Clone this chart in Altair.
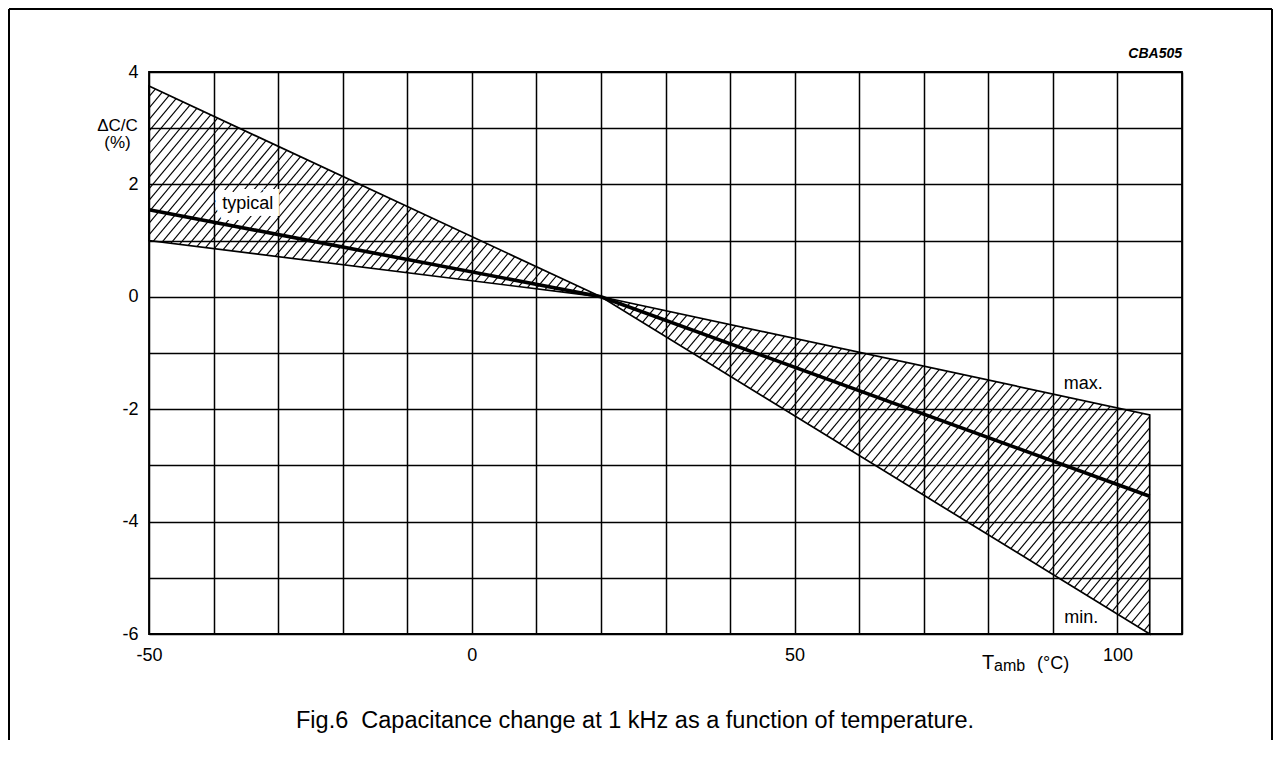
import altair as alt
import numpy as np
import pandas as pd

# ---- data ----
temps = [-50, 20, 105]          # T_amb (degC)
upper = [3.75, 0.0, -2.1]       # max. limit (%)
lower = [1.0, 0.0, -6.0]        # min. limit (%)
typical = [1.55, 0.0, -3.55]    # typical curve (%)

x_ticks = list(range(-50, 111, 10))
y_ticks = list(range(-6, 5, 1))

note_text = ["typical", "max.", "min."]
note_t = [-34.7, 94.7, 94.4]
note_v = [1.65, -1.56, -5.71]

# ---- layout / style constants ----
W, H = 1033, 562
XD, YD = (-50, 110), (-6, 4)
FONT = "Liberation Sans"
px_t = W / (XD[1] - XD[0])
px_v = H / (YD[1] - YD[0])
HATCH_SLOPE_PX = 1.2
HATCH_GAP_PX = 9.6

curves = pd.DataFrame({"T": temps, "upper": upper, "lower": lower, "typical": typical})

# ---- hatch segments clipped to the band between lower and upper ----
s = HATCH_SLOPE_PX * px_t / px_v
gap = HATCH_GAP_PX / px_t
segs = []
for i in range(len(temps) - 1):
    poly = [(temps[i], lower[i]), (temps[i], upper[i]),
            (temps[i + 1], upper[i + 1]), (temps[i + 1], lower[i + 1])]
    cs = [t - v / s for t, v in poly]
    for k in range(int(np.floor(min(cs) / gap)) - 1, int(np.ceil(max(cs) / gap)) + 2):
        c = k * gap
        pts = []
        for j in range(4):
            (t1, v1), (t2, v2) = poly[j], poly[(j + 1) % 4]
            f1 = v1 - s * (t1 - c)
            f2 = v2 - s * (t2 - c)
            if f1 == 0:
                pts.append((t1, v1))
            if f1 * f2 < 0:
                r = f1 / (f1 - f2)
                pts.append((t1 + r * (t2 - t1), v1 + r * (v2 - v1)))
        if len(pts) >= 2:
            pts.sort()
            a, b = pts[0], pts[-1]
            if abs(b[0] - a[0]) * px_t > 0.5:
                segs.append({"T": a[0], "V": a[1], "T2": b[0], "V2": b[1]})
hatch = pd.DataFrame(segs)

xs = alt.Scale(domain=list(XD), nice=False, zero=False)
ys = alt.Scale(domain=list(YD), nice=False, zero=False)

x_axis = alt.Axis(values=x_ticks, grid=True, ticks=False, domain=False,
                  labelExpr="datum.value % 50 === 0 ? toString(datum.value) : ''",
                  labelFlush=False, labelOverlap=False, labelPadding=12,
                  labelFontSize=18, labelFont=FONT, labelColor="black", title=None)
y_axis = alt.Axis(values=y_ticks, grid=True, ticks=False, domain=False,
                  labelExpr="datum.value % 2 === 0 ? toString(datum.value) : ''",
                  labelFlush=False, labelOverlap=False, labelPadding=11,
                  labelFontSize=18, labelFont=FONT, labelColor="black",
                  title=["ΔC/C", "(%)"], titleAngle=0, titleX=-32, titleY=58,
                  titleAlign="center", titleBaseline="alphabetic", titleFontSize=17,
                  titleFont=FONT, titleFontWeight="normal", titleColor="black",
                  titleLineHeight=17)

base = alt.Chart(curves)

grid = base.mark_line(opacity=0).encode(
    x=alt.X("T:Q", scale=xs, axis=x_axis),
    y=alt.Y("typical:Q", scale=ys, axis=y_axis),
)

hatch_layer = alt.Chart(hatch).mark_rule(color="black", strokeWidth=1.15).encode(
    x="T:Q", y="V:Q", x2="T2:Q", y2="V2:Q")

band = base.mark_area(fillOpacity=0, stroke="black", strokeWidth=1.7).encode(
    x="T:Q", y="upper:Q", y2="lower:Q")

typ = base.mark_line(color="black", strokeWidth=3.6).encode(x="T:Q", y="typical:Q")

notes = pd.DataFrame({"label": note_text, "T": note_t, "V": note_v})
halo = alt.Chart(notes[notes.label == "typical"]).mark_text(
    font=FONT, fontSize=18, stroke="white", strokeWidth=14, fill="white",
    strokeJoin="miter").encode(x="T:Q", y="V:Q", text="label:N")
note_layer = alt.Chart(notes).mark_text(font=FONT, fontSize=18, color="black").encode(
    x="T:Q", y="V:Q", text="label:N")

one = alt.Data(values=[{}])

def ptext(txt, x, y, **kw):
    return alt.Chart(one).mark_text(text=txt, font=FONT, color="black", **kw).encode(
        x=alt.value(x), y=alt.value(y))

t_T = ptext("T", 833, 597, fontSize=20, align="left", baseline="alphabetic")
t_amb = ptext("amb", 845, 599, fontSize=16, align="left", baseline="alphabetic")
t_unit = ptext("(°C)", 888, 597, fontSize=18, align="left", baseline="alphabetic")
code = ptext("CBA505", W, -14, fontSize=14, fontStyle="italic", fontWeight="bold",
             align="right", baseline="alphabetic")
caption = ptext("Fig.6\u00a0\u00a0Capacitance change at 1 kHz as a function of temperature.",
                486, 656, fontSize=23.5, align="center", baseline="alphabetic")

frame_l = alt.Chart(one).mark_rule(color="black", strokeWidth=2).encode(
    x=alt.value(-140), y=alt.value(-63), y2=alt.value(668))
frame_r = alt.Chart(one).mark_rule(color="black", strokeWidth=2).encode(
    x=alt.value(1123), y=alt.value(-63), y2=alt.value(668))
frame_t = alt.Chart(one).mark_rule(color="black", strokeWidth=2).encode(
    x=alt.value(-140), x2=alt.value(1123), y=alt.value(-63))

chart = alt.layer(
    grid, hatch_layer, band, halo, typ, note_layer,
    t_T, t_amb, t_unit, code, caption, frame_l, frame_r, frame_t
).properties(
    width=W, height=H, padding=0, background="white"
).configure_view(
    stroke="black", strokeWidth=1.8
).configure_axis(
    gridColor="black", gridWidth=1.5, gridOpacity=1
)

chart.save("out.html", embed_options={"renderer": "svg", "actions": False})
